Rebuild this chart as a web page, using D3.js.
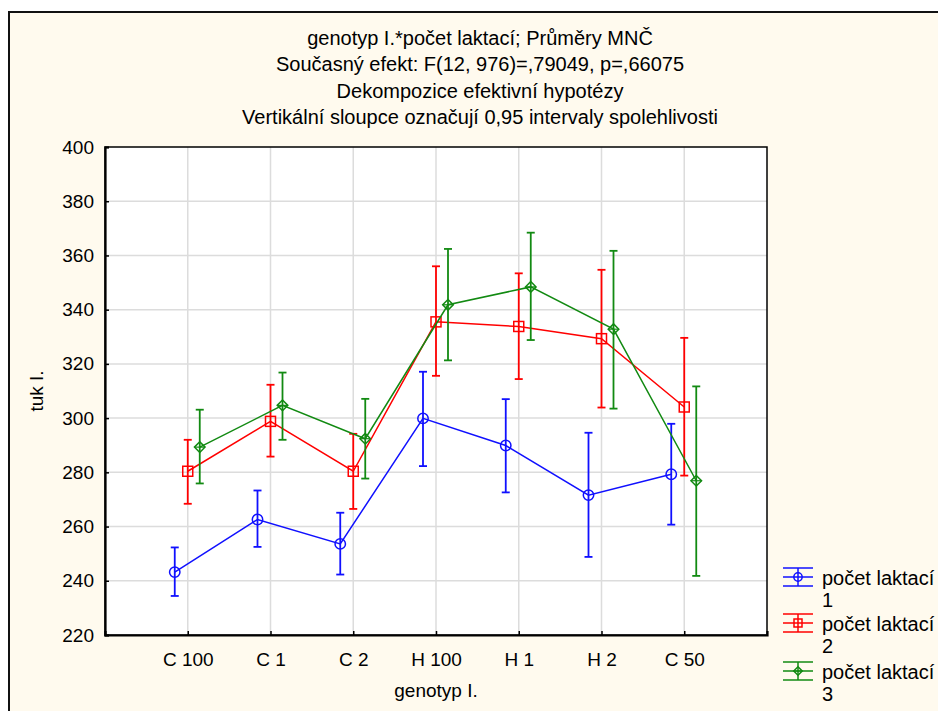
<!DOCTYPE html>
<html><head><meta charset="utf-8">
<script src="https://cdn.jsdelivr.net/npm/d3@7"></script>
<style>
html,body{margin:0;padding:0;background:#fff;}
svg{display:block;font-family:"Liberation Sans",Arial,sans-serif;}
</style></head>
<body>
<svg id="chart" width="938" height="711"></svg>
<script>
const titleLines = [
  "genotyp I.*počet laktací; Průměry MNČ",
  "Současný efekt: F(12, 976)=,79049, p=,66075",
  "Dekompozice efektivní hypotézy",
  "Vertikální sloupce označují 0,95 intervaly spolehlivosti"
];
const categories = ["C 100","C 1","C 2","H 100","H 1","H 2","C 50"];
const seriesNames = ["počet laktací 1","počet laktací 2","počet laktací 3"];
const yTicks = [220,240,260,280,300,320,340,360,380,400];
const xTitle = "genotyp I.";
const yTitle = "tuk I.";

const mean1 = [243.2, 262.6, 253.6, 299.9, 289.9, 271.6, 279.3];
const lo1   = [234.4, 252.5, 242.3, 282.3, 272.6, 248.8, 260.7];
const hi1   = [252.3, 273.3, 265.1, 317.1, 307.0, 294.6, 297.9];
const mean2 = [280.4, 298.8, 280.4, 335.5, 333.8, 329.3, 304.1];
const lo2   = [268.4, 285.8, 266.5, 315.6, 314.4, 303.9, 278.8];
const hi2   = [292.0, 312.3, 294.2, 356.0, 353.4, 354.7, 329.6];
const mean3 = [289.3, 304.7, 292.4, 341.8, 348.4, 332.8, 276.9];
const lo3   = [275.9, 292.0, 277.7, 321.3, 328.8, 303.5, 241.8];
const hi3   = [303.1, 316.8, 307.1, 362.4, 368.4, 361.7, 311.7];

const series = [
  {name: seriesNames[0], mean: mean1, lo: lo1, hi: hi1},
  {name: seriesNames[1], mean: mean2, lo: lo2, hi: hi2},
  {name: seriesNames[2], mean: mean3, lo: lo3, hi: hi3}
];

// styles
const colors = ["#1010ff", "#ff0000", "#128a12"];
const markers = ["circle", "square", "diamond"];
const dodge = [-13, 0, 12];
const bg = "#fffaee";
const fontSize = 19;

const svg = d3.select("#chart");
const W = 938, H = 711;
const plot = {left: 105, right: 767, top: 147, bottom: 635};

svg.append("rect").attr("x",0).attr("y",0).attr("width",W).attr("height",H).attr("fill","#fff");
svg.append("rect").attr("x",9).attr("y",12).attr("width",W).attr("height",H)
  .attr("fill",bg).attr("stroke","#111").attr("stroke-width",2);

const x = d3.scalePoint().domain(categories).range([plot.left, plot.right]).padding(1);
const y = d3.scaleLinear().domain([220,400]).range([plot.bottom, plot.top]);

// title
svg.append("g").selectAll("text").data(titleLines).join("text")
  .attr("x", 480).attr("y", (d,i)=>45 + i*26.3)
  .attr("text-anchor","middle").attr("font-size",20).attr("fill","#000")
  .text(d=>d);

// plot bg
svg.append("rect").attr("x",plot.left).attr("y",plot.top)
  .attr("width",plot.right-plot.left).attr("height",plot.bottom-plot.top)
  .attr("fill","#fff");

// gridlines
const grid = svg.append("g").attr("stroke","#dcdcdc").attr("stroke-width",1.5);
grid.selectAll("line.v").data(categories).join("line")
  .attr("x1",d=>x(d)).attr("x2",d=>x(d)).attr("y1",plot.top).attr("y2",plot.bottom);
grid.selectAll("line.h").data(yTicks.filter(t=>t>220 && t<400)).join("line")
  .attr("x1",plot.left).attr("x2",plot.right).attr("y1",d=>y(d)).attr("y2",d=>y(d));

// frame
svg.append("rect").attr("x",plot.left).attr("y",plot.top)
  .attr("width",plot.right-plot.left).attr("height",plot.bottom-plot.top)
  .attr("fill","none").attr("stroke","#000").attr("stroke-width",1.5);

// axes
const yAxis = d3.axisLeft(y).tickValues(yTicks).tickSize(-4).tickPadding(11).tickFormat(d3.format("d"));
const gy = svg.append("g").attr("transform",`translate(${plot.left},0)`).call(yAxis);
const xAxis = d3.axisBottom(x).tickSize(-4).tickPadding(18);
const gx = svg.append("g").attr("transform",`translate(0,${plot.bottom})`).call(xAxis);
[gx, gy].forEach(g=>{
  g.select(".domain").attr("stroke","#000").attr("stroke-width",2.2);
  g.selectAll(".tick line").attr("stroke","#000").attr("stroke-width",1.5);
  g.selectAll(".tick text").attr("font-size",fontSize).attr("font-family","Liberation Sans, Arial, sans-serif").attr("fill","#000");
});

svg.append("text").attr("x",(plot.left+plot.right)/2).attr("y",697)
  .attr("text-anchor","middle").attr("font-size",fontSize).text(xTitle);
svg.append("text").attr("transform",`translate(43,${(plot.top+plot.bottom)/2}) rotate(-90)`)
  .attr("text-anchor","middle").attr("font-size",fontSize).text(yTitle);

function drawMarker(g, type, cx, cy, color, size){
  const k = size || 1;
  if(type==="circle"){
    g.append("circle").attr("cx",cx).attr("cy",cy).attr("r",5.2*k)
      .attr("fill","none").attr("stroke",color).attr("stroke-width",1.5);
  } else if(type==="square"){
    const h = 5*k;
    g.append("rect").attr("x",cx-h).attr("y",cy-h).attr("width",2*h).attr("height",2*h)
      .attr("fill","none").attr("stroke",color).attr("stroke-width",1.5);
  } else {
    const r=5.3*k;
    g.append("path").attr("d",`M${cx},${cy-r}L${cx+r},${cy}L${cx},${cy+r}L${cx-r},${cy}Z`)
      .attr("fill","none").attr("stroke",color).attr("stroke-width",1.5);
    g.append("path").attr("d",`M${cx-r},${cy}L${cx+r},${cy}`)
      .attr("stroke",color).attr("stroke-width",1.2);
  }
}

// series
series.forEach((s,si)=>{
  const g = svg.append("g");
  const c = colors[si];
  const px = i => x(categories[i]) + dodge[si];
  const line = d3.line().x((d,i)=>px(i)).y(d=>y(d));
  g.append("path").attr("d", line(s.mean)).attr("fill","none").attr("stroke",c).attr("stroke-width",1.5);
  s.mean.forEach((m,i)=>{
    const cx = px(i);
    g.append("line").attr("x1",cx).attr("x2",cx).attr("y1",y(s.lo[i])).attr("y2",y(s.hi[i]))
      .attr("stroke",c).attr("stroke-width",1.8);
    [s.lo[i], s.hi[i]].forEach(v=>{
      g.append("line").attr("x1",cx-4).attr("x2",cx+4).attr("y1",y(v)).attr("y2",y(v))
        .attr("stroke",c).attr("stroke-width",1.8);
    });
    drawMarker(g, markers[si], cx, y(m), c);
  });
});

// legend
const legendTop = [577, 623, 671];
series.forEach((s,si)=>{
  const g = svg.append("g");
  const c = colors[si];
  const cy = legendTop[si];
  const cx = 798;
  [-9, 0, 9].forEach(dy=>{
    g.append("line").attr("x1",cx-15).attr("x2",cx+15).attr("y1",cy+dy).attr("y2",cy+dy).attr("stroke",c).attr("stroke-width",1.5);
  });
  g.append("line").attr("x1",cx).attr("x2",cx).attr("y1",cy-9).attr("y2",cy+9).attr("stroke",c).attr("stroke-width",1.5);
  drawMarker(g, markers[si], cx, cy, c, 0.8);
  const words = s.name.split(" ");
  const last = words.pop();
  const t = svg.append("text").attr("x",822).attr("y",cy+8).attr("font-size",20).attr("fill","#000");
  t.append("tspan").attr("x",822).text(words.join(" "));
  t.append("tspan").attr("x",822).attr("dy",22).text(last);
});
</script>
</body></html>
